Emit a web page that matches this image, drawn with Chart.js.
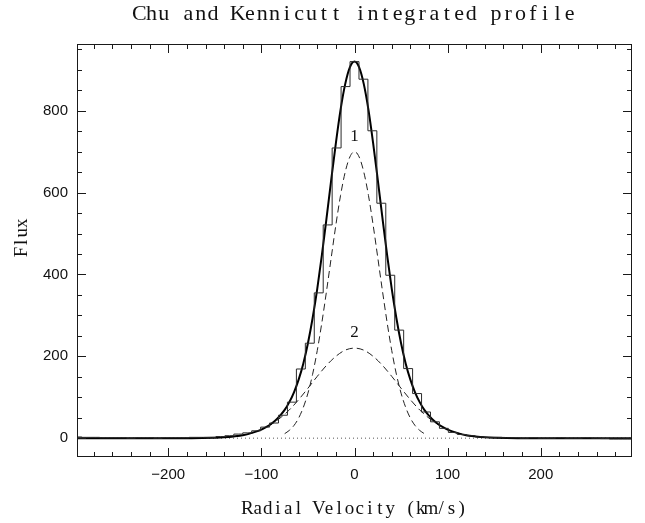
<!DOCTYPE html>
<html>
<head>
<meta charset="utf-8">
<script src="https://cdn.jsdelivr.net/npm/chart.js@4"></script>
<style>
  html, body { margin: 0; padding: 0; background: #fff; }
  #profileChart { display: block; }
</style>
</head>
<body>
<canvas id="profileChart" width="645" height="523"></canvas>
<script>
// observed profile, one value per velocity channel (km/s)
const binCenters = [
  -297.6, -288, -278.4, -268.8, -259.2, -249.6, -240, -230.4, -220.8, -211.2,
  -201.6, -192, -182.4, -172.8, -163.2, -153.6, -144, -134.4, -124.8, -115.2,
  -105.6, -96, -86.4, -76.8, -67.2, -57.6, -48, -38.4, -28.8, -19.2, -9.6,
  0,
  9.6, 19.2, 28.8, 38.4, 48, 57.6, 67.2, 76.8, 86.4, 96,
  105.6, 115.2, 124.8, 134.4, 144, 153.6, 163.2, 172.8, 182.4, 192,
  201.6, 211.2, 220.8, 230.4, 240, 249.6, 259.2, 268.8, 278.4, 288, 297.6
];
const observedFlux = [
  3, 2, 2, 1, 1, 1, 0, 1, 1, 0,
  1, 1, 1, 2, 2, 2, 4, 6, 10, 13,
  18, 27, 37, 56, 88, 169, 232, 355, 521, 709, 859,
  920,
  877, 751, 574, 398, 264, 170, 109, 64, 40, 24,
  14, 9, 6, 3, 2, 2, 1, 1, 0, 1,
  0, 0, 1, 0, 0, 1, 0, -1, -2, -2, -2
];

// two-component fit
const fitVelocity = [
  -298, -250, -200, -175, -150, -140, -130, -120, -110, -100,
  -95, -90, -85, -80, -75, -70, -65, -60, -55, -50, -45, -40, -35, -30, -25, -20, -15, -10, -5,
  0,
  5, 10, 15, 20, 25, 30, 35, 40, 45, 50, 55, 60, 65, 70, 75, 80, 85, 90, 95,
  100, 110, 120, 130, 140, 150, 175, 200, 250, 298
];
const fitFlux = [
  0, 0, 0, 0, 1, 2, 4, 7, 13, 21,
  27, 34, 43, 55, 69, 88, 112, 143, 182, 232, 293, 365, 448, 538, 631, 721, 802, 865, 906,
  920,
  906, 865, 802, 721, 631, 538, 448, 365, 293, 232, 182, 143, 112, 88, 69, 55, 43, 34, 27,
  21, 13, 7, 4, 2, 1, 0, 0, 0, 0
];

// component 1 (narrow)
const comp1Velocity = [-75, -70, -65, -60, -55, -50, -45, -40, -35, -30, -25, -20, -15, -10, -5, 0,
  5, 10, 15, 20, 25, 30, 35, 40, 45, 50, 55, 60, 65, 70, 75];
const comp1Flux = [11, 19, 31, 49, 75, 110, 156, 214, 283, 360, 441, 521, 593, 650, 687, 700,
  687, 650, 593, 521, 441, 360, 283, 214, 156, 110, 75, 49, 31, 19, 11];

// component 2 (broad)
const comp2Velocity = [-150, -140, -130, -120, -110, -100, -90, -80, -70, -60, -50, -40, -30, -20, -10, 0,
  10, 20, 30, 40, 50, 60, 70, 80, 90, 100, 110, 120, 130, 140, 150];
const comp2Flux = [1, 2, 4, 7, 13, 21, 33, 49, 69, 94, 122, 151, 178, 200, 215, 220,
  215, 200, 178, 151, 122, 94, 69, 49, 33, 21, 13, 7, 4, 2, 1];

const componentNames = ["1", "2"];
const componentLabelFlux = [736, 257];

const xTicks = [-200, -100, 0, 100, 200];
const yTicks = [0, 200, 400, 600, 800];

const chartTitle = "Chu and Kennicutt integrated profile";
const xTitle = "Radial Velocity (km/s)";
const yTitle = "Flux";

const toPoints = (xs, ys) => xs.map((v, i) => ({ x: v, y: ys[i] }));

// plot-package style text: every character sits in a fixed-width cell
function drawCells(ctx, text, cx, cy, cell) {
  const start = cx - (cell * text.length) / 2;
  for (let i = 0; i < text.length; i++) {
    ctx.fillText(text[i], start + cell * (i + 0.5), cy);
  }
}

const frameTicks = {
  id: "frameTicks",
  afterDatasetsDraw(chart) {
    const { ctx, chartArea: a, scales } = chart;
    const x = scales.x, y = scales.y;
    ctx.save();
    ctx.strokeStyle = "#1a1a1a";
    ctx.lineWidth = 1;
    ctx.strokeRect(a.left + 0.5, a.top + 0.5, a.right - a.left - 1, a.bottom - a.top - 1);
    ctx.beginPath();
    for (let v = -280; v <= 280; v += 20) {
      const px = Math.round(x.getPixelForValue(v)) + 0.5;
      const len = xTicks.includes(v) ? 9 : 5;
      ctx.moveTo(px, a.bottom); ctx.lineTo(px, a.bottom - len);
      ctx.moveTo(px, a.top); ctx.lineTo(px, a.top + len);
    }
    for (let v = 0; v <= 950; v += 50) {
      const py = Math.round(y.getPixelForValue(v)) + 0.5;
      const len = yTicks.includes(v) ? 9 : 5;
      ctx.moveTo(a.left, py); ctx.lineTo(a.left + len, py);
      ctx.moveTo(a.right, py); ctx.lineTo(a.right - len, py);
    }
    ctx.stroke();

    ctx.fillStyle = "#111";
    ctx.textAlign = "center";
    ctx.textBaseline = "middle";
    ctx.font = '17px "Liberation Serif"';
    componentNames.forEach((name, i) => {
      ctx.fillText(name, x.getPixelForValue(0), y.getPixelForValue(componentLabelFlux[i]));
    });

    const midX = (a.left + a.right) / 2;
    ctx.font = '22px "Liberation Serif"';
    drawCells(ctx, chartTitle, midX, 14, 12.3);
    ctx.font = '19px "Liberation Serif"';
    drawCells(ctx, xTitle, midX, 509, 10.2);
    ctx.translate(22, y.getPixelForValue(490));
    ctx.rotate(-Math.PI / 2);
    drawCells(ctx, yTitle, 0, 0, 9.6);
    ctx.restore();
  }
};

new Chart(document.getElementById("profileChart"), {
  type: "line",
  data: {
    datasets: [
      {
        label: "observed",
        data: toPoints(binCenters, observedFlux),
        borderColor: "#2a2a2a",
        borderWidth: 1,
        stepped: "middle",
        pointRadius: 0
      },
      {
        label: "fit",
        data: toPoints(fitVelocity, fitFlux),
        borderColor: "#000",
        borderWidth: 2,
        cubicInterpolationMode: "monotone",
        pointRadius: 0
      },
      {
        label: "component 1",
        data: toPoints(comp1Velocity, comp1Flux),
        borderColor: "#222",
        borderWidth: 1,
        borderDash: [7, 4],
        cubicInterpolationMode: "monotone",
        pointRadius: 0
      },
      {
        label: "component 2",
        data: toPoints(comp2Velocity, comp2Flux),
        borderColor: "#222",
        borderWidth: 1,
        borderDash: [7, 4],
        cubicInterpolationMode: "monotone",
        pointRadius: 0
      },
      {
        label: "zero",
        data: toPoints([-298, 298], [0, 0]),
        borderColor: "#555",
        borderWidth: 1,
        borderDash: [1, 3],
        pointRadius: 0
      }
    ]
  },
  options: {
    responsive: false,
    animation: false,
    layout: { padding: { left: 0, right: 13, top: 44, bottom: 0 } },
    plugins: {
      legend: { display: false },
      tooltip: { enabled: false },
      title: { display: false }
    },
    scales: {
      x: {
        type: "linear",
        min: -298,
        max: 298,
        grid: { display: false, drawTicks: false },
        border: { display: false },
        afterBuildTicks: (scale) => { scale.ticks = xTicks.map((v) => ({ value: v })); },
        afterFit: (scale) => { scale.height = 66; },
        ticks: {
          color: "#111",
          padding: 9,
          maxRotation: 0,
          font: { family: "Liberation Sans", size: 15 },
          callback: (v) => (v < 0 ? "\u2212" + Math.abs(v) : String(v))
        }
      },
      y: {
        type: "linear",
        min: -46,
        max: 963,
        grid: { display: false, drawTicks: false },
        border: { display: false },
        afterBuildTicks: (scale) => { scale.ticks = yTicks.map((v) => ({ value: v })); },
        afterFit: (scale) => { scale.width = 77; },
        ticks: {
          color: "#111",
          padding: 9,
          font: { family: "Liberation Sans", size: 15 }
        }
      }
    }
  },
  plugins: [frameTicks]
});
</script>
</body>
</html>
